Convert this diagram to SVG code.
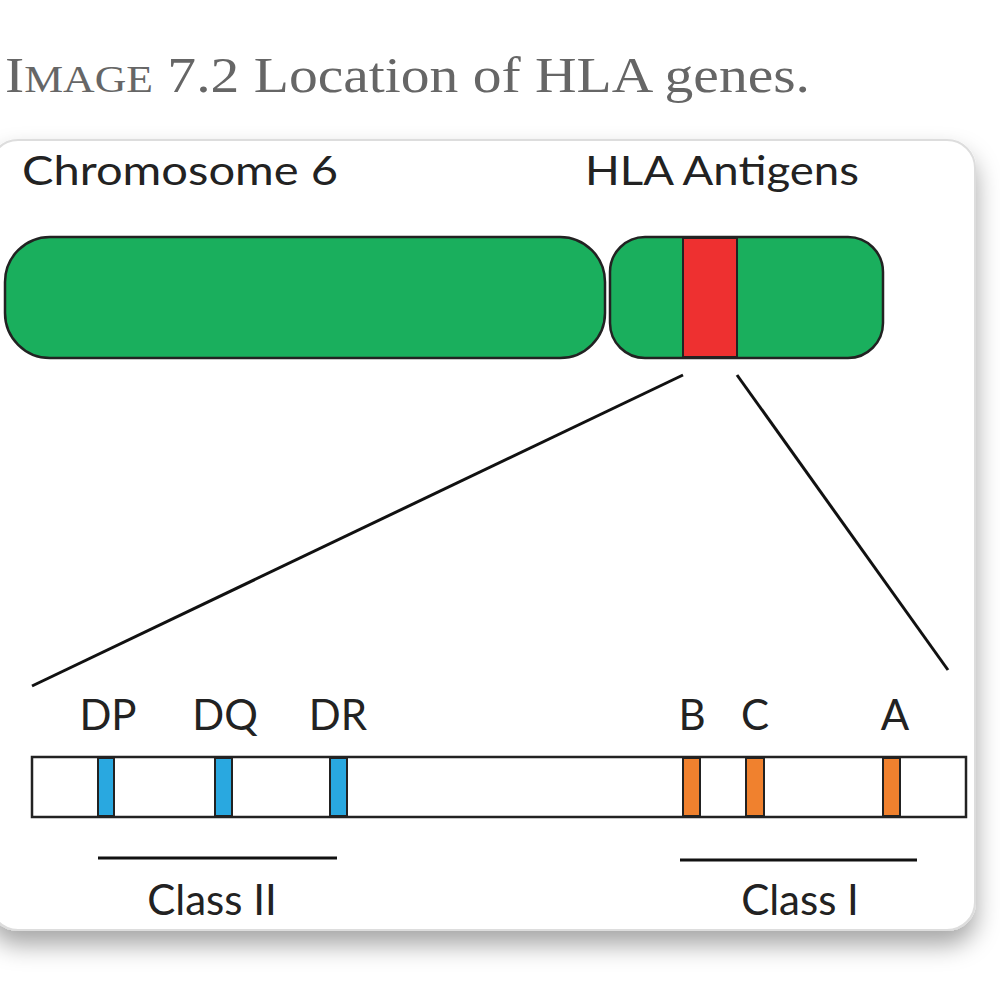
<svg xmlns="http://www.w3.org/2000/svg" width="1000" height="1000" viewBox="0 0 1000 1000">
<defs>
<style>
.t{font-family:"Lato","Liberation Sans",sans-serif;fill:#222}
.g{fill:#1aaf5d;stroke:#222;stroke-width:2.5}
.ln{stroke:#111;stroke-width:3;fill:none}
.b{fill:#29a8e0;stroke:#222;stroke-width:2}
.o{fill:#f0812e;stroke:#222;stroke-width:2}
</style>
<filter id="sh" x="-10%" y="-10%" width="120%" height="130%"><feDropShadow dx="0" dy="14" stdDeviation="12" flood-color="#000" flood-opacity="0.35"/></filter>
</defs>
<rect width="1000" height="1000" fill="#fff"/>
<text x="5" y="92" font-family="Liberation Serif,serif" font-size="50" fill="#666" textLength="805" lengthAdjust="spacingAndGlyphs">I<tspan font-size="38">MAGE</tspan> 7.2 Location of HLA genes.</text>
<rect x="-10" y="140" width="985" height="790" rx="28" fill="#fff" stroke="#ddd" stroke-width="2" filter="url(#sh)"/>
<g id="labels">
<text class="t" x="22" y="185" font-size="40" textLength="316" lengthAdjust="spacingAndGlyphs">Chromosome 6</text>
<text class="t" x="585" y="185" font-size="40" textLength="274" lengthAdjust="spacingAndGlyphs">HLA Antigens</text>
</g>
<g id="chromosome">
<rect class="g" x="5" y="237" width="600" height="121" rx="45"/>
<rect class="g" x="610" y="237" width="273" height="121" rx="35"/>
<rect x="683" y="238" width="54" height="119" fill="#ee3030" stroke="#222" stroke-width="2"/>
</g>
<g id="connectors">
<line class="ln" x1="683" y1="375" x2="32" y2="686"/>
<line class="ln" x1="737" y1="375" x2="948" y2="670"/>
<line class="ln" x1="98" y1="858" x2="337" y2="858"/>
<line class="ln" x1="680" y1="860" x2="917" y2="860"/>
</g>
<g id="bar">
<rect x="32" y="757" width="934" height="60" fill="#fff" stroke="#222" stroke-width="2.5"/>
<rect class="b" x="98" y="758" width="16" height="58"/>
<rect class="b" x="215" y="758" width="17" height="58"/>
<rect class="b" x="330" y="758" width="17" height="58"/>
<rect class="o" x="683" y="758" width="17" height="58"/>
<rect class="o" x="746" y="758" width="18" height="58"/>
<rect class="o" x="883" y="758" width="17" height="58"/>
</g>
<g id="genes" font-size="42" text-anchor="middle">
<text class="t" x="108" y="730">DP</text>
<text class="t" x="225" y="730">DQ</text>
<text class="t" x="338" y="730">DR</text>
<text class="t" x="692" y="730">B</text>
<text class="t" x="755" y="730">C</text>
<text class="t" x="895" y="730">A</text>
<text class="t" x="212" y="915">Class II</text>
<text class="t" x="800" y="915">Class I</text>
</g>
</svg>
